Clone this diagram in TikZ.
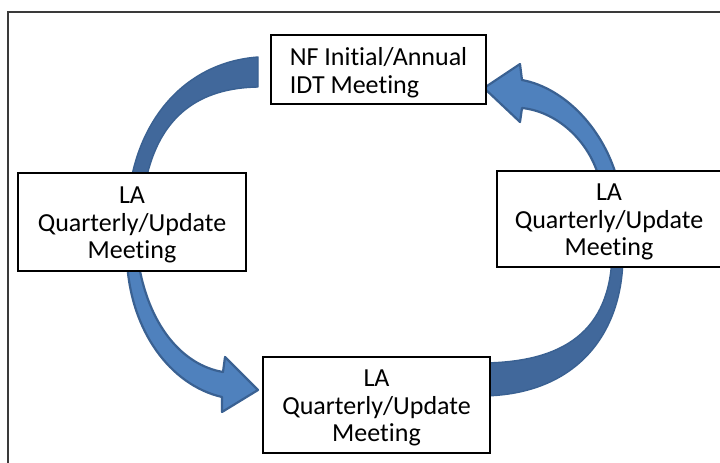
\documentclass[tikz,border=0pt]{standalone}
\usepackage{fontspec}
\setmainfont{Carlito}[Ligatures=NoCommon]
\definecolor{arclight}{HTML}{4F81BD}
\definecolor{arcdark}{HTML}{41689B}
\definecolor{arcline}{HTML}{3A6192}
\definecolor{framegray}{HTML}{3A3A3A}
\begin{document}
\begin{tikzpicture}[x=1pt,y=-1pt,
  meetbox/.style={draw=black,fill=white,line width=1.1pt,inner sep=0pt},
  meettext/.style={font=\fontsize{26}{27.5}\selectfont,align=center,inner sep=0pt,yshift=-3pt},
  darkarc/.style={fill=arcdark,draw=arcline,line width=1.4pt,line join=round},
  lightarrow/.style={fill=arclight,draw=arcline,line width=2.2pt,line join=round}]
\useasboundingbox (0,0) rectangle (720,463);
% outer frame
\draw[framegray,line width=1.2pt] (8,470) -- (8,12) -- (730,12);
% arcs
\draw[darkarc] (131,180) .. controls (144,112) and (190,62) .. (258,57)
  -- (258,87) .. controls (200,88) and (160,115) .. (146,180) -- cycle;
\draw[darkarc] (480,396) .. controls (575,396) and (623,335) .. (623,255)
  -- (612,255) .. controls (610,330) and (565,363) .. (480,363) -- cycle;
\draw[lightarrow] (127,260) .. controls (130,330) and (170,385) .. (222,397)
  -- (222,412) -- (258,390) -- (225,357) -- (223,372)
  .. controls (182,365) and (148,325) .. (138,260) -- cycle;
\draw[lightarrow] (522,80) .. controls (565,88) and (605,130) .. (618,182)
  -- (600,182) .. controls (592,145) and (560,112) .. (522,108)
  -- (520,122) -- (484,88) -- (520,64) -- cycle;
% boxes
\node[meetbox,minimum width=215pt,minimum height=69pt] (top) at (378.5,69.5) {};
\node[meettext,align=left] (toptext) at (top.center) {NF Initial/Annual\\IDT Meeting};
\node[meetbox,minimum width=228pt,minimum height=98pt] (left) at (132,222) {};
\node[meettext] (lefttext) at (left.center) {LA\\Quarterly/Update\\Meeting};
\node[meetbox,minimum width=224pt,minimum height=96pt] (right) at (609,219) {};
\node[meettext] (righttext) at (right.center) {LA\\Quarterly/Update\\Meeting};
\node[meetbox,minimum width=227pt,minimum height=96pt] (bottom) at (376.5,405) {};
\node[meettext] (bottomtext) at (bottom.center) {LA\\Quarterly/Update\\Meeting};
\end{tikzpicture}
\end{document}
